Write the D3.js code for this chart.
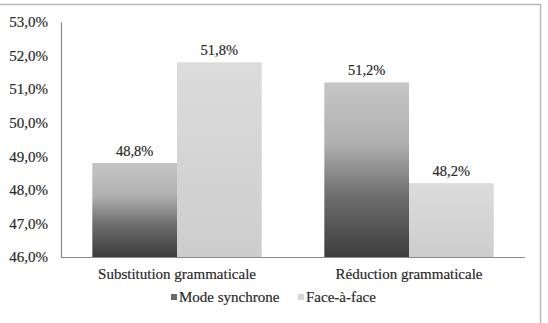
<!DOCTYPE html>
<html>
<head>
<meta charset="utf-8">
<script src="https://cdn.jsdelivr.net/npm/d3@7"></script>
<style>
  body { margin: 0; background: #fff; }
  svg text { font-family: "Liberation Serif", "Times New Roman", Times, "DejaVu Serif", serif !important; fill: #2b2b2b; stroke: #2b2b2b; stroke-width: 0.2px; }
</style>
</head>
<body>
<div id="chart"></div>
<script>
// data
const categories = ["Substitution grammaticale", "Réduction grammaticale"];
const seriesNames = ["Mode synchrone", "Face-à-face"];
const modeSynchrone = [48.8, 51.2];
const faceAFace = [51.8, 48.2];
const yTicks = [46, 47, 48, 49, 50, 51, 52, 53];

const W = 548, H = 323;
const margin = {top: 22, right: 23, bottom: 66, left: 61};

const fmt = v => v.toFixed(1).replace(".", ",") + "%";

const svg = d3.select("#chart").append("svg")
    .attr("width", W).attr("height", H);

// gradients to mimic the scanned bars
const defs = svg.append("defs");
const g1 = defs.append("linearGradient").attr("id", "gradMode")
    .attr("x1", 0).attr("y1", 0).attr("x2", 0).attr("y2", 1);
[[0, "#c6c6c6"], [0.35, "#b0b0b0"], [0.65, "#6e6e6e"], [1, "#3c3c3c"]]
    .forEach(s => g1.append("stop").attr("offset", s[0]).attr("stop-color", s[1]));
const g2 = defs.append("linearGradient").attr("id", "gradFace")
    .attr("x1", 0).attr("y1", 0).attr("x2", 0).attr("y2", 1);
[[0, "#dcdcdc"], [1, "#cdcdcd"]]
    .forEach(s => g2.append("stop").attr("offset", s[0]).attr("stop-color", s[1]));
const fills = ["url(#gradMode)", "url(#gradFace)"];
const legendFills = ["#6a6a6a", "#d6d6d6"];

// outer frame (scan is cropped on left/bottom)
svg.append("path")
    .attr("d", `M0,4.5 H540.5 V${H}`)
    .attr("fill", "none").attr("stroke", "#b8b8b8").attr("stroke-width", 1.5);

const x0 = d3.scaleBand().domain(categories)
    .range([margin.left, W - margin.right])
    .paddingInner(0.27).paddingOuter(0.135);
const x1 = d3.scaleBand().domain(seriesNames).range([0, x0.bandwidth()]);
const y = d3.scaleLinear().domain([46, 53]).range([257, margin.top]);

const rows = categories.map((c, i) => ({cat: c, vals: [modeSynchrone[i], faceAFace[i]]}));

const groups = svg.selectAll("g.grp").data(rows).enter().append("g")
    .attr("class", "grp")
    .attr("transform", d => `translate(${x0(d.cat)},0)`);

groups.selectAll("rect").data(d => d.vals.map((v, j) => ({v, j})))
    .enter().append("rect")
    .attr("x", d => x1(seriesNames[d.j]))
    .attr("y", d => y(d.v))
    .attr("width", x1.bandwidth())
    .attr("height", d => y(46) - y(d.v))
    .attr("fill", d => fills[d.j]);

groups.selectAll("text.val").data(d => d.vals.map((v, j) => ({v, j})))
    .enter().append("text")
    .attr("class", "val")
    .attr("x", d => x1(seriesNames[d.j]) + x1.bandwidth() / 2)
    .attr("y", d => y(d.v) - 7)
    .attr("text-anchor", "middle")
    .attr("font-size", 14.5)
    .text(d => fmt(d.v));

// y axis
const yAxis = svg.append("g")
    .attr("transform", `translate(${margin.left},0)`)
    .call(d3.axisLeft(y).tickValues(yTicks).tickSize(0).tickPadding(13).tickFormat(fmt));
yAxis.select(".domain").attr("stroke", "#8a8a8a").attr("stroke-width", 1.2);
yAxis.selectAll("text").attr("font-size", 15);

// x axis
const xAxis = svg.append("g")
    .attr("transform", `translate(0,${y(46)})`)
    .call(d3.axisBottom(x0).tickSize(0).tickPadding(11));
xAxis.select(".domain").attr("stroke", "#8a8a8a").attr("stroke-width", 1.2)
    .attr("d", `M${margin.left},0.5H${W - margin.right}`);
xAxis.selectAll("text").attr("font-size", 15);

// legend
const legX = [171, 298];
const leg = svg.selectAll("g.leg").data(seriesNames).enter().append("g")
    .attr("class", "leg")
    .attr("transform", (d, i) => `translate(${legX[i]},302)`);
leg.append("rect").attr("x", 0).attr("y", -8).attr("width", 6).attr("height", 6)
    .attr("fill", (d, i) => legendFills[i]);
leg.append("text").attr("x", 8).attr("y", 0).attr("font-size", 15).text(d => d);
</script>
</body>
</html>
